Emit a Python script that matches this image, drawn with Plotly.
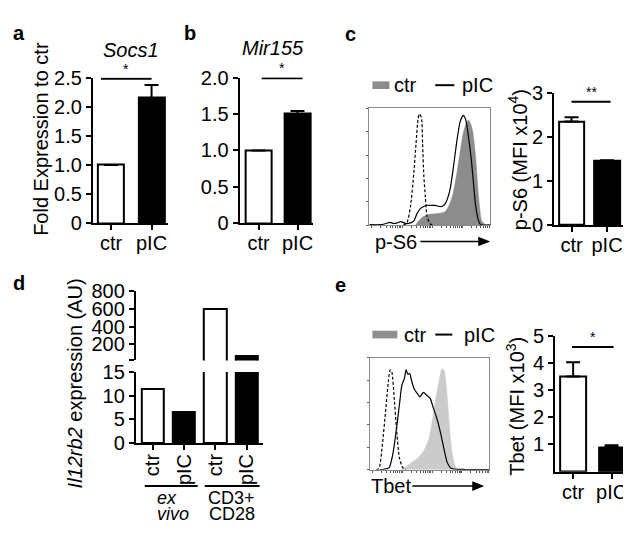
import math
import plotly.graph_objects as go

W, H = 631, 539
FONT = "Liberation Sans, Arial, Helvetica, sans-serif"

# ---------------- data ----------------
groups = ["ctr", "pIC"]
bar_colors = ["white", "black"]

# a  Socs1
socs1_mean = [1.0, 2.15]
socs1_err = [0.0, 0.22]
# b  Mir155
mir155_mean = [1.0, 1.5]
mir155_err = [0.0, 0.04]
# c  p-S6 MFI (x10^4)
ps6_mean = [2.35, 1.46]
ps6_err = [0.10, 0.01]
# e  Tbet MFI (x10^3)
tbet_mean = [3.5, 0.9]
tbet_err = [0.52, 0.07]
# d  Il12rb2 expression
il12_labels = ["ctr", "pIC", "ctr", "pIC"]
il12_values = [11.5, 6.5, 600, 70]
il12_colors = ["white", "black", "white", "black"]
il12_groups = [("ex", "vivo"), ("CD3+", "CD28")]
il12_group_italic = [True, False]
il12_low_range = [0, 15]
il12_high_range = [20, 800]

# c histogram (p-S6), relative channel / % of max
ps6_ctr_x = [38, 41, 44, 48, 52, 56, 60, 63, 66, 69, 72, 75, 77.5, 80, 82, 84, 85.5, 87.6, 90.4, 93, 96, 100]
ps6_ctr_y = [0, 4, 7, 9, 9.5, 10, 10.5, 12, 17, 26, 42, 62, 78, 87, 90, 86, 80, 62, 24, 3.5, 0.5, 0]
ps6_pic_x = [0, 10, 14, 17, 20, 23, 26, 30, 34, 37, 39.4, 42, 44, 47.7, 51, 54.5, 58, 60, 62.8, 65, 67,
             69.7, 72.5, 75.2, 77.7, 79, 80, 82, 84.3, 86.2, 88, 90.4, 92, 100]
ps6_pic_y = [0.5, 0.5, 1.5, 2.5, 1.5, 2, 3, 1.5, 2, 4, 10, 14, 15.5, 17, 17, 17, 16, 16, 18.5, 24, 32,
             51, 73, 89, 94, 92, 89, 75.5, 56.5, 35, 16, 3.5, 0.5, 0.3]
ps6_iso_x = [28, 31, 34, 36.6, 38.6, 40.2, 41.3, 43, 44, 45, 46.3, 47.7, 50.4, 54]
ps6_iso_y = [0, 2, 16, 43, 70, 90.5, 95, 92, 70, 43, 24, 7.6, 1, 0]

# e histogram (Tbet)
tbet_ctr_x = [25, 27.3, 34.5, 40, 44.5, 49, 51.7, 54.6, 57.5, 59.8, 61.2, 62.6, 64.7, 66.7, 69, 71.8, 74.7, 80]
tbet_ctr_y = [0, 1, 6.4, 10.6, 16, 27, 41, 61, 77.7, 89, 90, 86, 64, 36, 13.4, 2, 0, 0]
tbet_pic_x = [8, 11.5, 15.8, 18.7, 21.5, 24.4, 26.4, 28.7, 30, 31.6, 33, 34.5, 36.8, 38.8, 41.7, 44.5,
              47.4, 50.3, 53, 56, 59, 61.8, 64.7, 67.5, 72, 80, 100]
tbet_pic_y = [0, 0.5, 2, 13, 33, 58, 75, 82, 89, 85, 86, 80, 72, 69, 65, 69, 66.5, 63.7, 55, 45.5, 33,
              19, 6.4, 1.7, 0.5, 0.3, 0.3]
tbet_iso_x = [5, 7.2, 10, 13, 15.2, 16.7, 18, 20, 22, 24.4, 27.3, 30]
tbet_iso_y = [0, 1, 22, 55, 80, 89, 87.4, 64, 36, 10.6, 1.7, 0]


# ---------------- helpers ----------------
def px(x):
    return x / W


def py(y):
    return 1 - y / H


def xdom(a, b):
    return [px(a), px(b)]


def ydom(top, bottom):
    return [py(bottom), py(top)]


fig = go.Figure()


def add_bars(xa, ya, vals, errs, width):
    fig.add_trace(go.Bar(
        x=groups, y=vals, width=width, xaxis=xa, yaxis=ya, showlegend=False,
        marker=dict(color=bar_colors, line=dict(color="black", width=2)),
        error_y=dict(type="data", symmetric=False, array=errs, arrayminus=[0] * len(errs),
                     color="black", thickness=2, width=7),
    ))


add_bars("x", "y", socs1_mean, socs1_err, 0.65)
add_bars("x2", "y2", mir155_mean, mir155_err, 0.667)
add_bars("x3", "y3", ps6_mean, ps6_err, 0.72)
add_bars("x5", "y5", tbet_mean, tbet_err, 0.675)

# d: broken axis - the same bars drawn on a lower and an upper segment
il12_pos = list(range(len(il12_values)))
fig.add_trace(go.Bar(
    x=il12_pos, y=il12_values, width=0.72, xaxis="x4", yaxis="y4", showlegend=False,
    marker=dict(color=il12_colors, line=dict(color="black", width=2)),
))
il12_upper = [v if v > il12_high_range[0] else None for v in il12_values]
fig.add_trace(go.Bar(
    x=il12_pos, y=il12_upper, width=0.72, xaxis="x4", yaxis="y8", showlegend=False,
    marker=dict(color=il12_colors, line=dict(color="black", width=2)),
))

# histograms
for xa, ya, cx, cy, fillc, ix, iy, pxs, pys in [
    ("x6", "y6", ps6_ctr_x, ps6_ctr_y, "#8c8c8c", ps6_iso_x, ps6_iso_y, ps6_pic_x, ps6_pic_y),
    ("x7", "y7", tbet_ctr_x, tbet_ctr_y, "#cbcbcb", tbet_iso_x, tbet_iso_y, tbet_pic_x, tbet_pic_y),
]:
    fig.add_trace(go.Scatter(x=cx, y=cy, mode="lines", fill="tozeroy", fillcolor=fillc,
                             line=dict(color=fillc, width=0.5, shape="spline", smoothing=0.6),
                             xaxis=xa, yaxis=ya, showlegend=False))
    fig.add_trace(go.Scatter(x=ix, y=iy, mode="lines",
                             line=dict(color="black", width=1.2, dash="3px,2px", shape="spline", smoothing=0.6),
                             xaxis=xa, yaxis=ya, showlegend=False))
    fig.add_trace(go.Scatter(x=pxs, y=pys, mode="lines",
                             line=dict(color="black", width=1.2, shape="spline", smoothing=0.6),
                             xaxis=xa, yaxis=ya, showlegend=False))

# ---------------- axes ----------------
tickfont = dict(family=FONT, size=20, color="black")
base = dict(showline=True, linecolor="black", linewidth=2, ticks="outside", ticklen=5,
            tickwidth=2, tickcolor="black", showgrid=False, zeroline=False,
            tickfont=tickfont, fixedrange=True)
xbase = dict(base, ticklabelstandoff=-4)

lay = {}
lay["xaxis"] = dict(xbase, domain=xdom(85, 160), range=[-0.45, 1.4], anchor="y", type="category")
lay["yaxis"] = dict(base, domain=ydom(61, 213), range=[0, 2.5], anchor="x",
                    tickvals=[0, 0.5, 1, 1.5, 2, 2.5], ticktext=["0", "0.5", "1.0", "1.5", "2.0", "2.5"])
lay["xaxis2"] = dict(xbase, domain=xdom(232, 305), range=[-0.487, 1.385], anchor="y2", type="category")
lay["yaxis2"] = dict(base, domain=ydom(61, 213), range=[0, 2.0], anchor="x2",
                     tickvals=[0, 0.5, 1, 1.5, 2], ticktext=["0", "0.5", "1.0", "1.5", "2.0"])
lay["xaxis3"] = dict(xbase, domain=xdom(547, 618), range=[-0.49, 1.507], anchor="y3", type="category")
lay["yaxis3"] = dict(base, domain=ydom(77, 215), range=[0, 3], anchor="x3", tickvals=[0, 1, 2, 3])
lay["xaxis5"] = dict(xbase, domain=xdom(548, 625), range=[-0.468, 1.53], anchor="y5", type="category")
lay["yaxis5"] = dict(base, domain=ydom(330, 472), range=[0, 5], anchor="x5", tickvals=[1, 2, 3, 4, 5])
# d
lay["xaxis4"] = dict(xbase, domain=xdom(128, 255), range=[-0.54, 3.51], anchor="y4",
                     tickvals=il12_pos, ticktext=il12_labels, tickangle=-90)
lay["yaxis4"] = dict(base, domain=ydom(368, 442), range=il12_low_range, anchor="x4", tickvals=[0, 5, 10, 15])
lay["yaxis8"] = dict(base, domain=ydom(283.5, 356), range=il12_high_range, anchor="x4",
                     tickvals=[200, 400, 600, 800],
                     minor=dict(tickvals=[il12_high_range[0]], ticks="outside", ticklen=5,
                                tickwidth=2, tickcolor="black", showgrid=False))
# histograms
logticks = []
for d in range(4):
    for k in range(1, 10):
        logticks.append(d * 25 + 25 * math.log10(k) + 2)
hx = dict(showline=True, linecolor="#8a8a8a", linewidth=1, mirror=True, ticks="outside", ticklen=2,
          tickwidth=1, tickcolor="#555", showgrid=False, zeroline=False, showticklabels=False,
          fixedrange=True, range=[0, 100])
lay["xaxis6"] = dict(hx, domain=xdom(362, 483), anchor="y6", tickvals=logticks)
lay["yaxis6"] = dict(hx, domain=ydom(93, 215), anchor="x6", tickvals=[0, 20, 40, 60, 80, 100])
lay["xaxis7"] = dict(hx, domain=xdom(363, 482), anchor="y7", tickvals=logticks)
lay["yaxis7"] = dict(hx, domain=ydom(353, 470), anchor="x7", tickvals=[0, 20, 40, 60, 80, 100])

# ---------------- annotations & shapes ----------------
ann = []
shapes = []


def text(x, y, t, size=20, bold=False, italic=False, angle=0, xanchor="center", align="center"):
    if bold:
        t = "<b>" + t + "</b>"
    if italic:
        t = "<i>" + t + "</i>"
    ann.append(dict(x=px(x), y=py(y), xref="paper", yref="paper", text=t, showarrow=False,
                    textangle=angle, xanchor=xanchor, yanchor="middle", align=align,
                    font=dict(family=FONT, size=size, color="black")))


# panel letters
for lt, x, y in [("a", 11, 15), ("b", 182, 15), ("c", 343, 16), ("d", 11, 275), ("e", 333, 277)]:
    text(x, y, lt, size=20, bold=True)

# titles
text(123, 32, "Socs1", italic=True)
text(265, 30, "Mir155", italic=True)

# y titles
text(33, 125, "Fold Expression to ctr", size=20, angle=-90)
text(510, 147, "p-S6 (MFI x10<sup>4</sup>)", size=20, angle=-90)
text(68, 380, "<i>Il12rb2</i> expression (AU)", size=20, angle=-90)
text(508, 404, "Tbet (MFI x10<sup>3</sup>)", size=20, angle=-90)

# significance
for xa, ya, x0, x1, yv, star in [
    ("x", "y", -0.25, 1.0, 2.48, "*"),
    ("x2", "y2", 0.08, 1.13, 1.99, "*"),
    ("x3", "y3", 0.0, 1.1, 2.8, "**"),
    ("x5", "y5", -0.03, 1.05, 4.58, "*"),
]:
    shapes.append(dict(type="line", xref=xa, yref=ya, x0=x0, x1=x1, y0=yv, y1=yv,
                       line=dict(color="black", width=2)))
    ann.append(dict(x=(x0 + x1) / 2, y=yv, xref=xa, yref=ya, text=star, showarrow=False,
                    yanchor="bottom", xanchor="center", font=dict(family=FONT, size=14, color="black")))

# histogram legends
for sq0, sq1, ly, ctr_x, l0, l1, pic_x, col in [
    (365, 382, 69, 385, 428, 447, 453, "#8c8c8c"),
    (365, 390, 329, 395, 428, 445, 455, "#8f8f8f"),
]:
    shapes.append(dict(type="rect", xref="paper", yref="paper", x0=px(sq0), x1=px(sq1),
                       y0=py(ly + 4), y1=py(ly - 4), fillcolor=col, line=dict(width=0)))
    text(ctr_x, ly, "ctr", xanchor="left")
    shapes.append(dict(type="line", xref="paper", yref="paper", x0=px(l0), x1=px(l1),
                       y0=py(ly), y1=py(ly), line=dict(color="black", width=2)))
    text(pic_x, ly, "pIC", xanchor="left")

# histogram x labels with arrows
for lab, tx, ty, a0, a1 in [("p-S6", 366, 232, 413, 483), ("Tbet", 362, 487, 405, 477)]:
    text(tx, ty, lab, xanchor="left")
    shapes.append(dict(type="line", xref="paper", yref="paper", x0=px(a0), x1=px(a1 - 10),
                       y0=py(ty), y1=py(ty), line=dict(color="black", width=1.5)))
    shapes.append(dict(type="path", xref="paper", yref="paper",
                       path=f"M {px(a1 - 12)} {py(ty - 5)} L {px(a1)} {py(ty)} L {px(a1 - 12)} {py(ty + 5)} Z",
                       fillcolor="black", line=dict(width=0)))

# d group labels (two lines each)
for (g0, g1, tx, xanchor), (l1, l2), it in zip([(137, 190, 147, "left"), (197, 252, 224, "center")],
                                               il12_groups, il12_group_italic):
    shapes.append(dict(type="line", xref="paper", yref="paper", x0=px(g0), x1=px(g1),
                       y0=py(487), y1=py(487), line=dict(color="black", width=2)))
    text(tx, 499, l1, size=18, italic=it, xanchor=xanchor)
    text(tx, 516, l2, size=18, italic=it, xanchor=xanchor)

fig.update_layout(
    width=W, height=H, margin=dict(l=0, r=0, t=0, b=0),
    paper_bgcolor="white", plot_bgcolor="white",
    font=dict(family=FONT, color="black"),
    showlegend=False, bargap=0,
    annotations=ann, shapes=shapes,
    **lay,
)

fig.write_html("out.html")
